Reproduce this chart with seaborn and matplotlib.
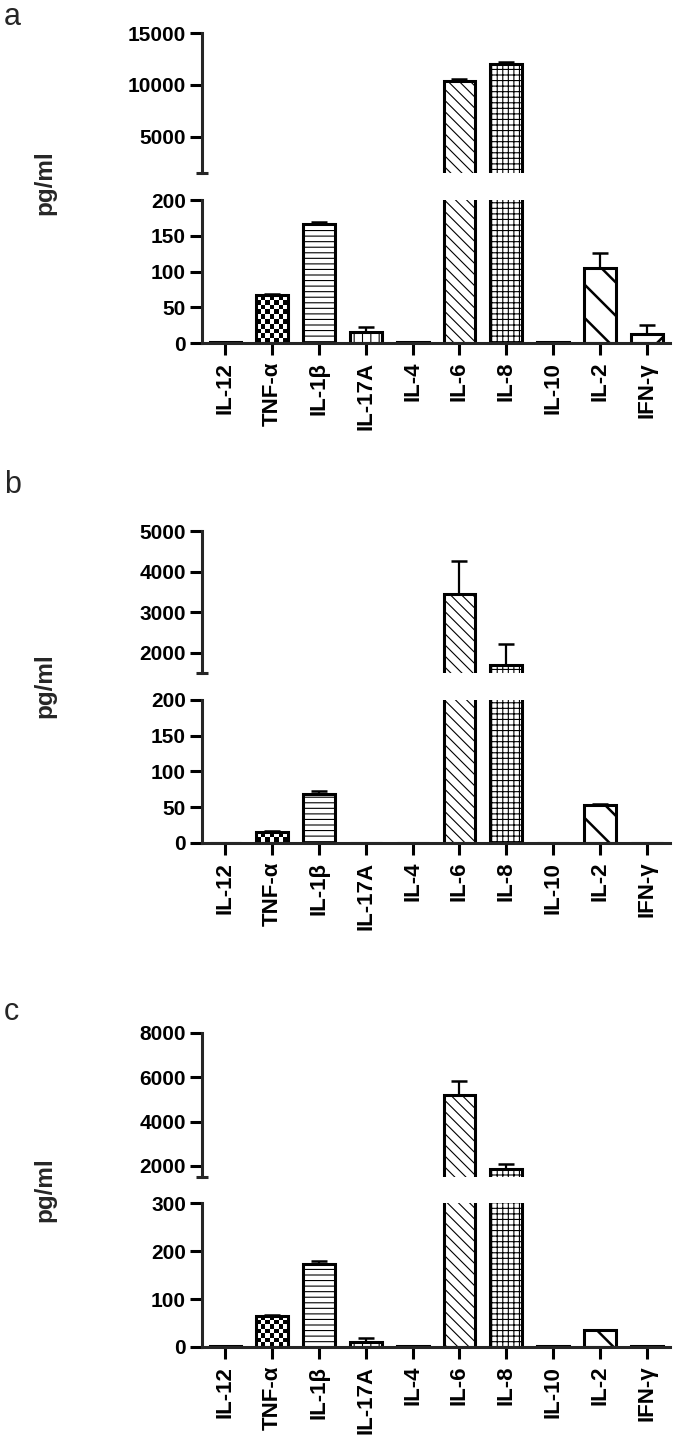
import numpy as np
import pandas as pd
import seaborn as sns
import matplotlib.pyplot as plt

# Categories (same for all three panels)
cytokines = ['IL-12', 'TNF-α', 'IL-1β', 'IL-17A', 'IL-4', 'IL-6', 'IL-8', 'IL-10', 'IL-2', 'IFN-γ']

# Panel a: mean and upper error (pg/ml)
a_mean = [1, 67, 166, 15, 1, 10350, 12050, 1, 105, 13]
a_err = [0, 1, 3, 7, 0, 180, 120, 0, 21, 12]

# Panel b
b_mean = [0, 15, 68, 0, 0, 3460, 1700, 0, 53, 0]
b_err = [0, 1, 4, 0, 0, 800, 520, 0, 2, 0]

# Panel c
c_mean = [1, 65, 172, 10, 1, 5200, 1850, 1, 35, 1]
c_err = [0, 1, 7, 9, 0, 640, 250, 0, 0, 0]

# fill pattern per cytokine ('checker' is drawn separately)
hatches = ['', 'checker', '---', '||', '', '\\\\\\', '+++', '', '\\', '/']
thick_hatch = ['\\', '/']

sns.set_theme(style='ticks')
plt.rcParams['font.family'] = ['Liberation Sans', 'DejaVu Sans']
plt.rcParams['hatch.linewidth'] = 0.8
plt.rcParams['hatch.color'] = 'black'

fig = plt.figure(figsize=(6.75, 14.36), dpi=100)

LEFT, WIDTH = 0.2993, 0.6933
LW = 2.2

panels = [
    dict(letter='a', mean=a_mean, err=a_err,
         top=(0.8795, 0.0975, (1500, 15000), [5000, 10000, 15000]),
         bot=(0.7611, 0.0996, (0, 200), [0, 50, 100, 150, 200]),
         label_y=183, letter_y=25),
    dict(letter='b', mean=b_mean, err=b_err,
         top=(0.5313, 0.0989, (1500, 5000), [2000, 3000, 4000, 5000]),
         bot=(0.4130, 0.0996, (0, 200), [0, 50, 100, 150, 200]),
         label_y=686, letter_y=493),
    dict(letter='c', mean=c_mean, err=c_err,
         top=(0.1804, 0.1003, (1500, 8000), [2000, 4000, 6000, 8000]),
         bot=(0.0620, 0.1002, (0, 300), [0, 100, 200, 300]),
         label_y=1190, letter_y=1020),
]


def draw_bars(ax, means, errs, ylim):
    df = pd.DataFrame({'cytokine': cytokines, 'value': means})
    sns.barplot(data=df, x='cytokine', y='value', color='white', edgecolor='black',
                linewidth=LW, width=0.68, errorbar=None, saturation=1, ax=ax)
    ax.set_xlim(-0.5, len(cytokines) - 0.5)
    ax.set_ylim(*ylim)
    for patch, h in zip(ax.patches, hatches):
        if h == 'checker':
            x0, w, hgt = patch.get_x(), patch.get_width(), patch.get_height()
            if hgt <= ylim[0]:
                continue
            p0 = ax.transData.transform((x0, ylim[0]))
            p1 = ax.transData.transform((x0 + w, min(hgt, ylim[1])))
            ncol = max(1, int(round((p1[0] - p0[0]) / 4.6)))
            nrow = max(1, int(round((p1[1] - p0[1]) / 4.6)))
            board = np.add.outer(np.arange(nrow), np.arange(ncol)) % 2
            ax.imshow(board, cmap='gray_r', extent=(x0, x0 + w, ylim[0], hgt),
                      aspect='auto', interpolation='nearest', zorder=1.5)
            patch.set_facecolor('none')
            patch.set_zorder(2)
        elif h:
            patch.set_hatch(h)
            if h in thick_hatch and hasattr(patch, 'set_hatch_linewidth'):
                patch.set_hatch_linewidth(1.8)
    ax.errorbar(range(len(cytokines)), means,
                yerr=[np.zeros(len(means)), errs], fmt='none', ecolor='black',
                elinewidth=1.6, capsize=6, capthick=1.8, zorder=3)
    ax.set_xlim(-0.5, len(cytokines) - 0.5)
    ax.set_ylim(*ylim)
    ax.set_xlabel('')
    ax.set_ylabel('')
    for s in ax.spines.values():
        s.set_linewidth(LW)
        s.set_zorder(5)


for p in panels:
    tb, th, tlim, tticks = p['top']
    bb, bh, blim, bticks = p['bot']

    ax_top = fig.add_axes([LEFT, tb, WIDTH, th])
    ax_bot = fig.add_axes([LEFT, bb, WIDTH, bh])

    draw_bars(ax_top, p['mean'], p['err'], tlim)
    draw_bars(ax_bot, p['mean'], p['err'], blim)

    # upper segment
    ax_top.spines[['top', 'right', 'bottom']].set_visible(False)
    ax_top.set_yticks(tticks)
    ax_top.set_yticks([tlim[0]], minor=True)
    ax_top.set_xticks([])
    ax_top.tick_params(axis='y', which='major', direction='out', length=8.6, width=LW,
                       labelsize=15, pad=3, colors='black')
    ax_top.tick_params(axis='y', which='minor', direction='inout', length=8.6, width=LW)

    # lower segment
    ax_bot.spines[['top', 'right']].set_visible(False)
    ax_bot.set_yticks(bticks)
    ax_bot.set_yticks([blim[1]], minor=True)
    ax_bot.tick_params(axis='y', which='major', direction='out', length=8.6, width=LW,
                       labelsize=15, pad=3, colors='black')
    ax_bot.tick_params(axis='y', which='minor', direction='in', length=4.5, width=LW)
    ax_bot.tick_params(axis='x', direction='out', length=8.6, width=LW,
                       labelsize=16, pad=5, labelrotation=90, colors='black')

    for lab in ax_top.get_yticklabels() + ax_bot.get_yticklabels() + ax_bot.get_xticklabels():
        lab.set_fontweight('bold')

    fig.text(45 / 675, 1 - p['label_y'] / 1436, 'pg/ml', rotation=90,
             ha='center', va='center', fontsize=17.5, fontweight='bold')
    fig.text(4 / 675, 1 - p['letter_y'] / 1436, p['letter'],
             ha='left', va='baseline', fontsize=22)

fig.savefig('out.png', dpi=100)
